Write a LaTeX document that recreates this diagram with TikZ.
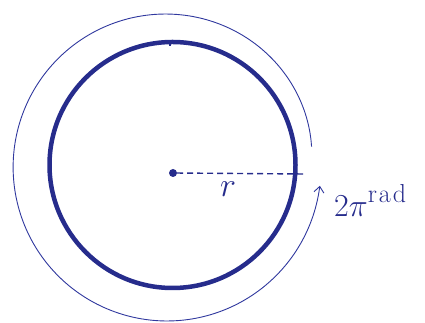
\RequirePackage{fix-cm}
\documentclass[tikz,border=0pt]{standalone}
\usetikzlibrary{arrows.meta}
\definecolor{ink}{RGB}{48,56,158}
\definecolor{inkdark}{RGB}{38,44,140}
\begin{document}
\begin{tikzpicture}[x=1pt,y=1pt,
  thin ink/.style={draw=ink, line width=0.9pt},
  thick ink/.style={draw=inkdark, line width=4.5pt},
  lbl/.style={text=inkdark, inner sep=0pt}]
\useasboundingbox (0,0) rectangle (425,323);
% inner circle
\draw[thick ink] (172.5,158) circle[radius=123];
% tick at top
\draw[draw=inkdark, line width=1.2pt] (170,281) -- (170,277);
% center dot and radius
\node[circle, fill=inkdark, inner sep=0pt, minimum size=8pt] (o) at (173,150) {};
\coordinate (e) at (304,149);
\draw[draw=inkdark, line width=1.4pt, dash pattern=on 6pt off 4pt] (o) -- (e);
\node[lbl, font=\fontsize{34}{36}\selectfont] (rl) at (228,134) {$r$};
% outer spiral arc with arrow
\draw[thin ink, -{Straight Barb[length=6pt,width=10pt]}]
  plot[domain=8:353, samples=120, smooth]
  ({167 + (154 - 8*exp(-(\x-8)/40))*cos(\x)}, {156 + (154 - 8*exp(-(\x-8)/40))*sin(\x)});
\node[lbl, anchor=base west, font=\fontsize{32}{34}\selectfont] (a) at (334,106)
  {$2\pi$\raisebox{14pt}{\fontsize{26}{28}\selectfont r\kern2pt a\kern2pt d}};
\end{tikzpicture}
\end{document}
